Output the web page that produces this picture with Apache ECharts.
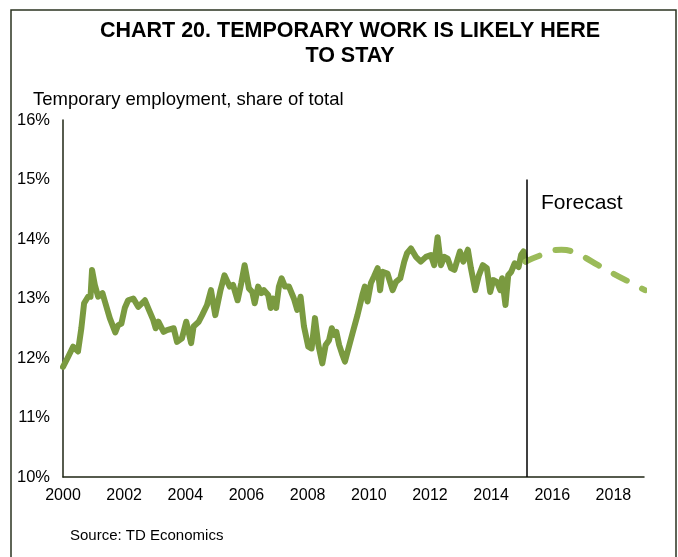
<!DOCTYPE html>
<html>
<head>
<meta charset="utf-8">
<script src="https://cdn.jsdelivr.net/npm/echarts@6/dist/echarts.min.js"></script>
<style>html,body{margin:0;padding:0;background:#fff}#c{width:678px;height:557px}</style>
</head>
<body>
<div id="c"></div>
<script>
// ---- data ----
const histYears = [2000.00,2000.15,2000.33,2000.49,2000.60,2000.69,2000.82,2000.90,2000.95,2001.04,2001.15,2001.29,2001.37,2001.53,2001.71,2001.80,2001.91,2002.02,2002.13,2002.30,2002.46,2002.68,2002.81,2002.95,2003.03,2003.12,2003.29,2003.40,2003.62,2003.73,2003.89,2004.03,2004.19,2004.27,2004.44,2004.55,2004.71,2004.84,2004.98,2005.15,2005.28,2005.45,2005.56,2005.71,2005.83,2005.94,2006.08,2006.19,2006.27,2006.38,2006.49,2006.57,2006.71,2006.79,2006.86,2006.97,2007.06,2007.15,2007.26,2007.39,2007.55,2007.66,2007.77,2007.88,2008.02,2008.13,2008.24,2008.35,2008.48,2008.59,2008.70,2008.79,2008.86,2008.94,2009.03,2009.14,2009.22,2009.47,2009.63,2009.79,2009.87,2009.96,2010.07,2010.17,2010.29,2010.37,2010.45,2010.61,2010.78,2010.89,2011.03,2011.16,2011.25,2011.38,2011.54,2011.70,2011.87,2012.03,2012.14,2012.25,2012.36,2012.47,2012.58,2012.69,2012.80,2012.91,2012.98,2013.09,2013.24,2013.34,2013.48,2013.60,2013.73,2013.86,2013.97,2014.07,2014.19,2014.30,2014.36,2014.47,2014.56,2014.66,2014.77,2014.90,2014.98,2015.06,2015.13];
const histValues = [11.85,12.00,12.19,12.11,12.50,12.92,13.03,13.03,13.48,13.23,13.03,13.09,12.95,12.67,12.43,12.55,12.58,12.84,12.97,13.00,12.86,12.97,12.81,12.64,12.50,12.61,12.44,12.47,12.50,12.27,12.33,12.61,12.25,12.53,12.61,12.72,12.89,13.14,12.72,13.14,13.39,13.20,13.23,12.97,13.26,13.56,13.17,13.11,12.92,13.20,13.09,13.14,13.06,12.84,13.00,12.84,13.20,13.34,13.20,13.20,13.00,12.81,13.03,12.53,12.19,12.16,12.67,12.22,11.91,12.22,12.30,12.50,12.39,12.44,12.22,12.05,11.94,12.42,12.72,13.06,13.20,12.95,13.26,13.37,13.51,13.14,13.45,13.42,13.14,13.28,13.34,13.62,13.76,13.84,13.70,13.62,13.70,13.73,13.56,14.03,13.56,13.70,13.67,13.51,13.48,13.67,13.79,13.62,13.82,13.51,13.14,13.39,13.56,13.51,13.11,13.31,13.28,13.14,13.34,12.89,13.39,13.45,13.59,13.53,13.73,13.79,13.62];
const fcYears = [2015.13,2015.64,2016.30,2016.89,2017.50,2017.99,2018.70,2019.03];
const fcValues = [13.62,13.73,13.82,13.73,13.56,13.42,13.23,13.14];
const forecastYear = 2015.15;
const forecastTop = 15;
const yTicks = [10, 16, 1];      // min, max, interval (%)
const xTicks = [2000, 2019, 2];  // min, max, interval (years)
const titleText = 'CHART 20. TEMPORARY WORK IS LIKELY HERE\nTO STAY';
const yName = 'Temporary employment, share of total';
const sourceText = 'Source: TD Economics';
const forecastLabel = 'Forecast';

const zip = (a, b) => a.map((v, i) => [v, b[i]]);
const FONT = '"Liberation Sans", Arial, sans-serif';
const chart = echarts.init(document.getElementById('c'), null, {renderer: 'canvas'});
chart.setOption({
  animation: false,
  backgroundColor: '#fff',
  textStyle: {fontFamily: FONT},
  title: [
    {text: titleText, left: 350, top: 19, textAlign: 'center', padding: 0,
     textStyle: {fontFamily: FONT, fontSize: 21.5, fontWeight: 'bold', color: '#000', lineHeight: 24.5}},
    {text: yName, left: 33, top: 90, padding: 0,
     textStyle: {fontFamily: FONT, fontSize: 18.5, fontWeight: 'normal', color: '#000'}},
    {text: forecastLabel, left: 541, top: 193, padding: 0,
     textStyle: {fontFamily: FONT, fontSize: 21, fontWeight: 'normal', color: '#000'}},
    {text: sourceText, left: 70, top: 528, padding: 0,
     textStyle: {fontFamily: FONT, fontSize: 15, fontWeight: 'normal', color: '#000'}}
  ],
  graphic: [
    {type: 'rect', shape: {x: 11, y: 10, width: 665, height: 600}, silent: true,
     style: {fill: 'none', stroke: '#2b3320', lineWidth: 1.5}}
  ],
  grid: {left: 63, right: 34, top: 120, bottom: 80, containLabel: false},
  xAxis: {
    type: 'value', min: xTicks[0], max: xTicks[1], interval: xTicks[2],
    axisLine: {show: true, lineStyle: {color: '#1f2614', width: 1.5}},
    axisTick: {show: false}, splitLine: {show: false},
    axisLabel: {color: '#000', fontSize: 16, margin: 11, showMaxLabel: false,
      formatter: v => (v % 2 === 0 ? String(v) : '')}
  },
  yAxis: {
    type: 'value', min: yTicks[0], max: yTicks[1], interval: yTicks[2],
    axisLine: {show: true, lineStyle: {color: '#1f2614', width: 1.5}},
    axisTick: {show: false}, splitLine: {show: false},
    axisLabel: {color: '#000', fontSize: 16.5, margin: 13, formatter: '{value}%'}
  },
  series: [
    {type: 'line', data: zip(histYears, histValues), showSymbol: false, symbol: 'none',
     lineStyle: {color: '#7a9a40', width: 6, cap: 'round', join: 'round'},
     markLine: {silent: true, symbol: 'none', label: {show: false},
       lineStyle: {color: '#000', width: 1.5, type: 'solid'},
       data: [[{coord: [forecastYear, yTicks[0]]}, {coord: [forecastYear, forecastTop]}]]}},
    {type: 'line', data: zip(fcYears, fcValues), showSymbol: false, symbol: 'none', smooth: 0.5,
     lineStyle: {color: '#9bbb59', width: 6, type: [15, 17], cap: 'round'}}
  ]
});
</script>
</body>
</html>
